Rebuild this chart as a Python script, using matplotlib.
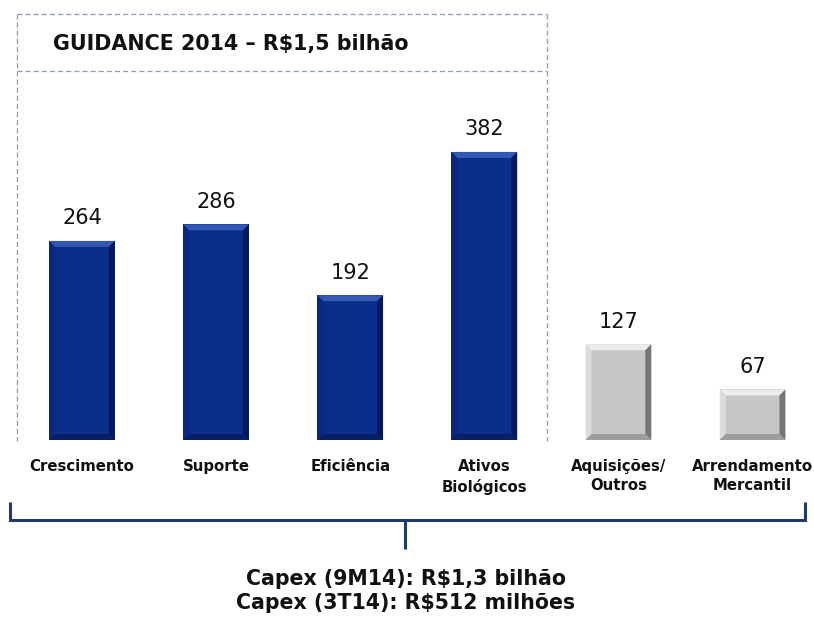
import matplotlib
matplotlib.use("Agg")
import matplotlib.pyplot as plt
from matplotlib.patches import Polygon
from matplotlib.lines import Line2D

# Capex breakdown (R$ milhões)
categories = ["Crescimento", "Suporte", "Eficiência", "Ativos\nBiológicos",
              "Aquisições/\nOutros", "Arrendamento\nMercantil"]
values = [264, 286, 192, 382, 127, 67]
groups = ["guidance", "guidance", "guidance", "guidance", "other", "other"]

title_text = "GUIDANCE 2014 – R$1,5 bilhão"
footer_lines = ["Capex (9M14): R$1,3 bilhão", "Capex (3T14): R$512 milhões"]

W, H = 814, 619
fig = plt.figure(figsize=(W / 100, H / 100), dpi=100)
fig.patch.set_facecolor("white")


def fx(x):
    return x / W


def fy(y):
    return 1 - y / H


# bar axes: baseline at y=440 px, spans full width
ax = fig.add_axes([0, fy(440), 1, 440 / H])
ax.set_xlim(-0.611, 5.458)
ax.set_ylim(0, 583.5)
ax.axis("off")

palette = {
    "guidance": dict(face="#0b2d8c", top="#3558b4", left="#0a2781", right="#05195a", bottom="#061f66"),
    "other": dict(face="#c6c6c6", top="#ececec", left="#dcdcdc", right="#767676", bottom="#9c9c9c"),
}

bar_w = 0.49
xs = list(range(len(values)))
bars = ax.bar(xs, values, width=bar_w, color=[palette[g]["face"] for g in groups],
              edgecolor="none", zorder=2)

# bevelled edges derived from each bar's rectangle
bx = 6 / 134.1      # bevel width in x data units
by = 6 / 0.754      # bevel height in y data units
for rect, g in zip(bars, groups):
    c = palette[g]
    x0 = rect.get_x()
    x1 = x0 + rect.get_width()
    y0 = 0
    y1 = rect.get_height()
    polys = [
        ([(x0, y1), (x1, y1), (x1 - bx, y1 - by), (x0 + bx, y1 - by)], c["top"]),
        ([(x0, y0), (x0, y1), (x0 + bx, y1 - by), (x0 + bx, y0 + by)], c["left"]),
        ([(x1, y0), (x1, y1), (x1 - bx, y1 - by), (x1 - bx, y0 + by)], c["right"]),
        ([(x0, y0), (x1, y0), (x1 - bx, y0 + by), (x0 + bx, y0 + by)], c["bottom"]),
    ]
    for pts, col in polys:
        ax.add_patch(Polygon(pts, closed=True, facecolor=col, edgecolor="none", zorder=3))
    ax.annotate(f"{int(y1)}", (rect.get_x() + rect.get_width() / 2, y1),
                xytext=(0, 9), textcoords="offset points", ha="center", va="bottom",
                fontsize=15, color="#111111", zorder=4)

# category labels under the bars
for x, lab in zip(xs, categories):
    ax.annotate(lab, (x, 0), xytext=(0, -14), textcoords="offset points",
                ha="center", va="top", fontsize=10.7, fontweight="bold",
                color="#111111", linespacing=1.33, annotation_clip=False)

# dashed guidance frame
frame_col = "#8b9bb3"
dash = dict(color=frame_col, lw=0.9, ls=(0, (4, 2.5)), transform=fig.transFigure)
L, R, T, D, B = 17, 547, 14, 71, 441
fig.add_artist(Line2D([fx(L), fx(R)], [fy(T), fy(T)], **dash))
fig.add_artist(Line2D([fx(L), fx(R)], [fy(D), fy(D)], **dash))
fig.add_artist(Line2D([fx(L), fx(L)], [fy(T), fy(B)], **dash))
fig.add_artist(Line2D([fx(R), fx(R)], [fy(T), fy(B)], **dash))
fig.text(fx(53), fy(44), title_text, ha="left", va="center", fontsize=14.9,
         fontweight="bold", color="#111111")

# bracket grouping all categories
br_col = "#1f3a6c"
br = dict(color=br_col, lw=2.2, transform=fig.transFigure, solid_capstyle="butt",
          solid_joinstyle="miter")
fig.add_artist(Line2D([fx(10), fx(10), fx(805), fx(805)],
                      [fy(502), fy(520), fy(520), fy(502)], **br))
fig.add_artist(Line2D([fx(405), fx(405)], [fy(520), fy(549)], **br))

fig.text(fx(406), fy(579), footer_lines[0], ha="center", va="center", fontsize=14.8,
         fontweight="bold", color="#111111")
fig.text(fx(406), fy(603), footer_lines[1], ha="center", va="center", fontsize=14.8,
         fontweight="bold", color="#111111")

fig.savefig("out.png", dpi=100, facecolor="white")
